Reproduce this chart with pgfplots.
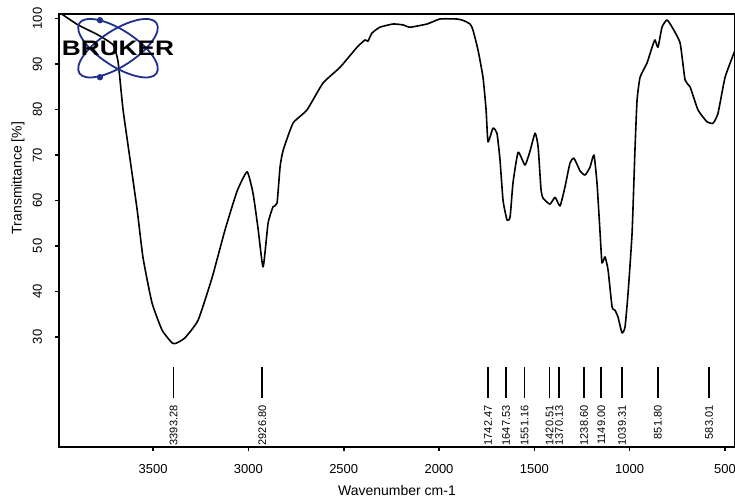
\documentclass[border=0pt]{standalone}
\usepackage{fontspec}
\setmainfont{Liberation Sans}
\usepackage{pgfplots}
\usepackage{pgfplotstable}
\pgfplotsset{compat=1.18}
\definecolor{brukerblue}{RGB}{28,48,140}

% IR spectrum: wavenumber, transmittance
\pgfplotstableread{
wn T
3994 101.4
3973 100.8
3894 98.6
3789 96.4
3710 94.2
3684 90.5
3658 80.0
3621 69.0
3584 58.0
3553 47.4
3506 37.5
3453 31.5
3401 28.7
3380 28.6
3333 29.8
3264 33.7
3191 43.0
3123 53.5
3060 62.0
3007 66.3
2976 61.6
2950 54.0
2923 45.4
2897 55.0
2871 58.6
2850 59.4
2834 67.4
2818 71.0
2766 77.0
2693 79.9
2609 85.8
2519 89.3
2430 93.7
2388 95.3
2373 95.0
2352 96.8
2310 98.1
2241 98.8
2189 98.6
2152 98.1
2063 98.8
1995 99.9
1906 99.9
1874 99.6
1837 98.8
1822 97.5
1795 93.0
1769 87.0
1753 79.9
1743 72.9
1717 75.9
1696 74.8
1680 68.9
1664 60.0
1643 55.7
1627 56.4
1612 63.8
1585 70.6
1549 67.8
1523 70.8
1496 74.8
1480 71.8
1465 62.5
1454 60.5
1418 59.2
1391 60.7
1365 58.8
1339 63.0
1313 68.2
1292 69.3
1260 66.5
1234 65.6
1208 67.3
1187 70.0
1171 63.8
1155 52.9
1145 46.3
1129 47.6
1113 44.7
1092 36.6
1077 35.9
1061 34.4
1040 30.9
1024 32.2
1008 39.7
987 52.9
972 71.0
961 82.0
945 87.1
909 90.2
882 93.7
867 95.3
851 93.7
830 98.1
804 99.7
777 98.1
735 94.6
709 86.5
683 85.0
641 79.9
594 77.3
562 77.0
536 79.2
499 87.1
447 93.0
}\spectrum

% peak marker strokes
\pgfplotstableread{
wn T
3393.28 16.6
3393.28 23.4
nan nan
2926.80 16.6
2926.80 23.4
nan nan
1742.47 16.6
1742.47 23.4
nan nan
1647.53 16.6
1647.53 23.4
nan nan
1551.16 16.6
1551.16 23.4
nan nan
1420.51 16.6
1420.51 23.4
nan nan
1370.13 16.6
1370.13 23.4
nan nan
1238.60 16.6
1238.60 23.4
nan nan
1149.00 16.6
1149.00 23.4
nan nan
1039.31 16.6
1039.31 23.4
nan nan
851.80 16.6
851.80 23.4
nan nan
583.01 16.6
583.01 23.4
}\peaklines

% peak labels (top of text)
\pgfplotstableread{
wn T
3393.28 15.0
2926.80 15.0
1742.47 15.0
1647.53 15.0
1551.16 15.0
1420.51 15.0
1370.13 15.0
1238.60 15.0
1149.00 15.0
1039.31 15.0
851.80 15.0
583.01 15.0
}\peaks

\begin{document}
\begin{tikzpicture}
\begin{axis}[
  name=ax,
  scale only axis,
  width=338pt, height=216.5pt,
  x dir=reverse,
  xmin=447, xmax=3994,
  ymin=5.8, ymax=101,
  xtick={500,1000,...,3500},
  ytick={30,40,...,100},
  tick align=outside, tick pos=left,
  major tick length=2pt,
  tick style={black, line width=0.8pt},
  axis line style={black, line width=1pt},
  /pgf/number format/assume math mode=true,
  /pgf/number format/1000 sep={},
  xticklabel style={font=\fontsize{6.5}{7}\selectfont, yshift=-3pt},
  yticklabel style={font=\fontsize{6.5}{7}\selectfont, rotate=90, anchor=south, yshift=3pt},
  xlabel={Wavenumber cm-1},
  ylabel={Transmittance [\%]},
  label style={font=\fontsize{7}{8}\selectfont},
  xlabel style={at={(axis description cs:0.5,0)}, anchor=center, yshift=-21.5pt},
  ylabel style={at={(axis description cs:0,0.621)}, anchor=center, yshift=20.5pt},
]
\addplot[black, line width=0.8pt, line join=round, mark=none, smooth, tension=0.3] table[x=wn, y=T] {\spectrum};
\addplot[black, line width=0.9pt, mark=none, unbounded coords=jump] table[x=wn, y=T] {\peaklines};
\addplot[draw=none, mark=none,
  nodes near coords, point meta=explicit symbolic,
  nodes near coords style={rotate=90, anchor=east, inner sep=0pt, text=black,
    font=\fontsize{5.5}{6}\selectfont}]
  table[x=wn, y=T, meta=wn] {\peaks};
\end{axis}
% Bruker logo
\begin{scope}[shift={([xshift=29.5pt,yshift=199.4pt]ax.south west)}]
  \draw[brukerblue, line width=0.9pt, rotate=33] (0,0) ellipse [x radius=23pt, y radius=9pt];
  \draw[brukerblue, line width=0.9pt, rotate=-33] (0,0) ellipse [x radius=23pt, y radius=9pt];
  \fill[brukerblue] (-9pt,14pt) circle (1.6pt);
  \fill[brukerblue] (-9pt,-14.5pt) circle (1.6pt);
  \node[xscale=1.25, inner sep=0pt, font=\bfseries\fontsize{10.5}{10.5}\selectfont] at (0,0) {BRUKER};
\end{scope}
\pgfresetboundingbox
\path[use as bounding box] ([xshift=-29.5pt,yshift=-27pt]ax.south west) rectangle ([yshift=7pt]ax.north east);
\end{tikzpicture}
\end{document}
